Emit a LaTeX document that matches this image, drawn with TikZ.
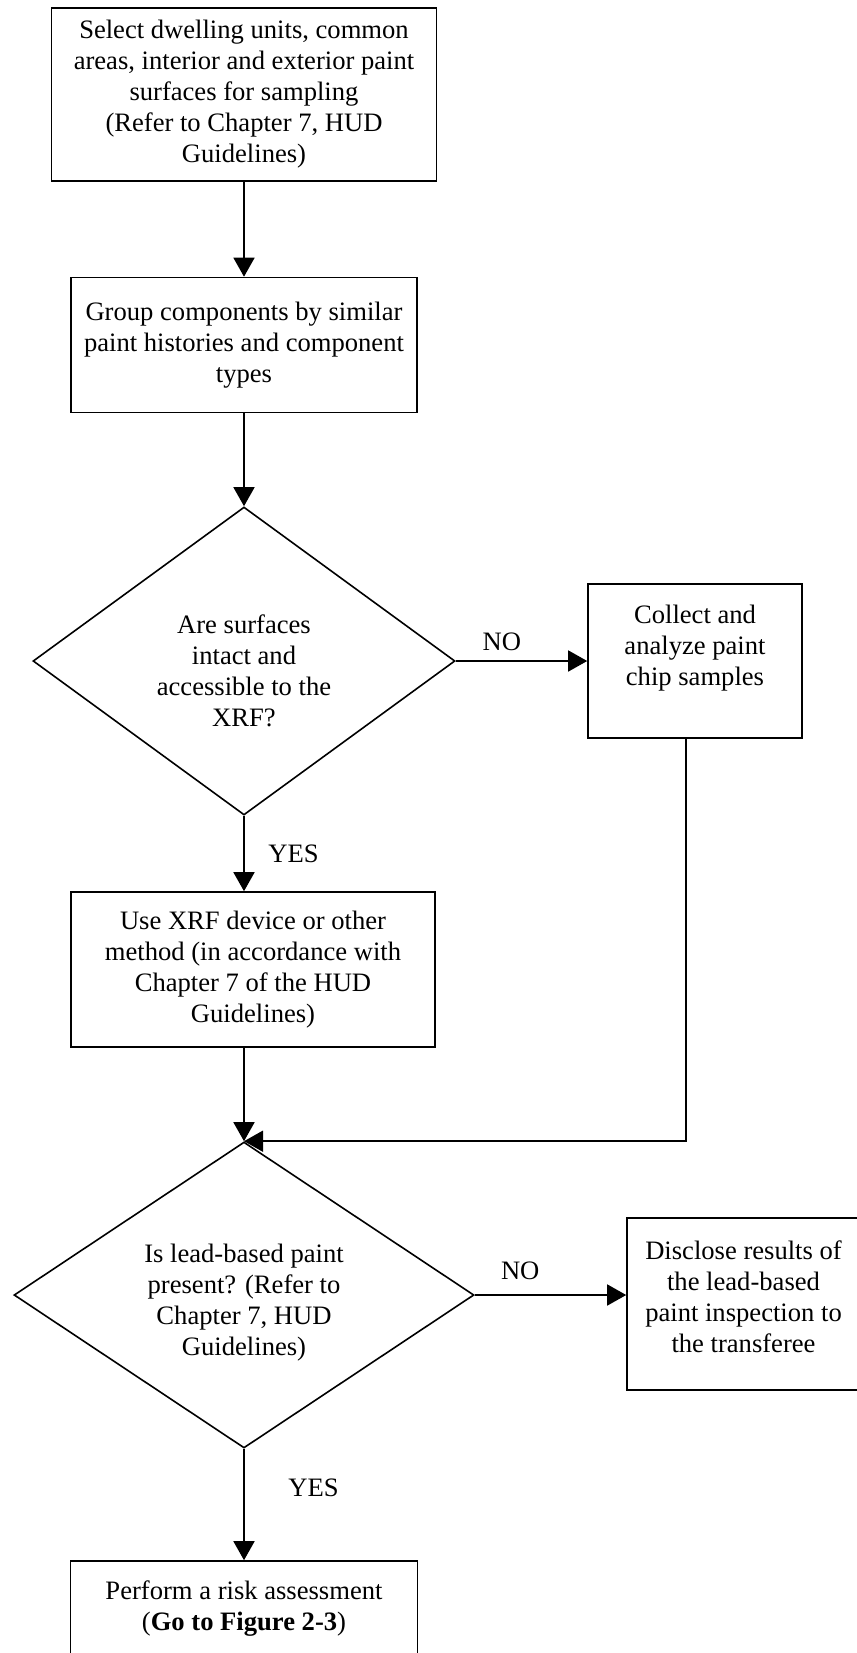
\documentclass[tikz,border=0pt]{standalone}
\usepackage{fontspec}
\setmainfont{Liberation Serif}
\usetikzlibrary{arrows.meta,positioning,calc,shapes.geometric}

\begin{document}
\begin{tikzpicture}[x=0.5pt,y=-0.5pt,
		box/.style={rectangle,draw,line width=0.8pt,align=center,inner sep=0pt},
		decision/.style={diamond,draw,line width=0.8pt,align=center,inner sep=0pt},
		flow/.style={-{Triangle[length=9.5pt,width=10.5pt]},line width=0.8pt},
		font=\fontsize{13.3}{15.5}\selectfont]
	
	\useasboundingbox (0,0) rectangle (856,1653);
	
	% Steps
	\node[box,minimum width=192.5pt,minimum height=86.5pt] (sel) at (244,94.5) {Select dwelling units, common\\areas, interior and exterior paint\\surfaces for sampling\\(Refer to Chapter 7, HUD\\Guidelines)};
	\node[box,minimum width=173pt,minimum height=67.5pt] (grp) at (244,345) {Group components by similar\\paint histories and component\\types};
	\node[decision,minimum width=211pt,minimum height=154pt,shape aspect=1.37] (dia1) at (244,661) {\mbox{}\\[3.3pt]Are surfaces\\intact and\\accessible to the\\XRF?};
	\node[box,minimum width=107pt,minimum height=77pt] (col) at (695,661) {Collect and\\analyze paint\\chip samples\\ \mbox{}};
	\node[box,minimum width=182pt,minimum height=77.5pt] (use) at (253,969.5) {Use XRF device or other\\method (in accordance with\\Chapter 7 of the HUD\\Guidelines)};
	\node[decision,minimum width=230pt,minimum height=153pt,shape aspect=1.5] (dia2) at (244,1295) {\mbox{}\\[1.3pt]Is lead-based paint\\present? (Refer to\\Chapter 7, HUD\\Guidelines)};
	\node[box,minimum width=116.5pt,minimum height=86pt] (disc) at (743.5,1304) {Disclose results of\\the lead-based\\paint inspection to\\the transferee\\[-8pt]\mbox{}};
	\node[box,minimum width=173.5pt,minimum height=48pt] (risk) at (244,1609) {Perform a risk assessment\\(\textbf{Go to Figure 2-3})};
	
	% Arrows
	\draw[flow] (sel) -- (grp);
	\draw[flow] (grp) -- (dia1);
	\draw[flow] (dia1) -- node[above=1.5pt,pos=0.35] {NO} (col);
	\draw[flow] (dia1) -- (dia1.south |- use.north) node[pos=0.5,right=8.5pt] {YES};
	\draw[flow] (use.south -| dia2.north) -- (dia2.north);
	\draw[flow] ([xshift=-4.5pt]col.south) |- (dia2.north);
	\draw[flow] (dia2.east) -- node[above=4pt,pos=0.3] {NO} (dia2.east -| disc.west);
	\draw[flow] (dia2) -- (risk) node[pos=0.35,right=18.5pt] {YES};
	
\end{tikzpicture}
\end{document}
